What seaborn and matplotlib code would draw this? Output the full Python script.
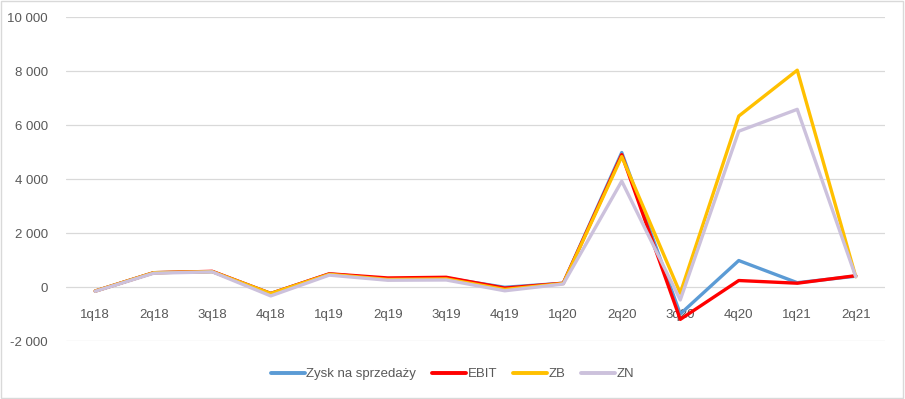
import pandas as pd
import numpy as np
import matplotlib
matplotlib.use("Agg")
import matplotlib.pyplot as plt
import seaborn as sns
from matplotlib.ticker import FuncFormatter, MultipleLocator

# quarterly results
quarters = ['1q18', '2q18', '3q18', '4q18', '1q19', '2q19', '3q19', '4q19',
            '1q20', '2q20', '3q20', '4q20', '1q21', '2q21']
zysk = [-150, 530, 570, -240, 480, 300, 330, -10, 140, 4980, -1000, 980, 160, 400]
ebit = [-150, 530, 580, -240, 490, 335, 360, -40, 140, 4900, -1200, 240, 140, 420]
zb = [-150, 530, 570, -240, 470, 280, 300, -90, 130, 4830, -230, 6330, 8030, 380]
zn = [-160, 510, 560, -330, 440, 250, 260, -140, 110, 3920, -480, 5770, 6580, 380]

series_names = ['Zysk na sprzedaży', 'EBIT', 'ZB', 'ZN']
colors = ['#5B9BD5', '#FF0000', '#FFC000', '#CCC1DC']

df = pd.DataFrame({'q': quarters * 4,
                   'val': zysk + ebit + zb + zn,
                   'series': np.repeat(series_names, len(quarters))})
df['x'] = list(range(len(quarters))) * 4

sns.set_style("white")
plt.rcParams['font.family'] = ['Liberation Sans', 'DejaVu Sans']

fig = plt.figure(figsize=(9.05, 3.99), dpi=100)
ax = fig.add_axes([66 / 905, 1 - 341 / 399, 819 / 905, 324 / 399])

sns.lineplot(data=df, x='x', y='val', hue='series', hue_order=series_names,
             palette=colors, linewidth=2.4, ax=ax, legend=False, sort=False)

ax.set_xlim(-0.5, len(quarters) - 0.5)
ax.set_ylim(-2000, 10000)
ax.yaxis.set_major_locator(MultipleLocator(2000))
ax.yaxis.set_major_formatter(FuncFormatter(lambda v, p: f"{int(v):,}".replace(',', ' ')))
ax.set_xticks(range(len(quarters)))
ax.set_xticklabels(quarters)
ax.grid(axis='y', color='#D9D9D9', linewidth=0.9)
ax.set_axisbelow(True)
for s in ax.spines.values():
    s.set_visible(False)
ax.tick_params(axis='both', length=0, labelsize=9.5, labelcolor='#595959')
ax.tick_params(axis='y', pad=13)
ax.tick_params(axis='x', pad=-23)
ax.set_xlabel('')
ax.set_ylabel('')

handles = [plt.Line2D([0], [0], color=c, linewidth=2.8) for c in colors]
fig.legend(handles, series_names, loc='center', bbox_to_anchor=(0.5, 1 - 374 / 399),
           ncol=4, frameon=False, fontsize=9.5, handlelength=2.6, handletextpad=0.1,
           columnspacing=1.2, labelcolor='#595959')

# outer border like the excel chart
fig.patches.append(plt.Rectangle((0.001, 0.002), 0.997, 0.996, transform=fig.transFigure,
                                 fill=False, edgecolor='#D9D9D9', linewidth=1))

fig.savefig("out.png", dpi=100)
